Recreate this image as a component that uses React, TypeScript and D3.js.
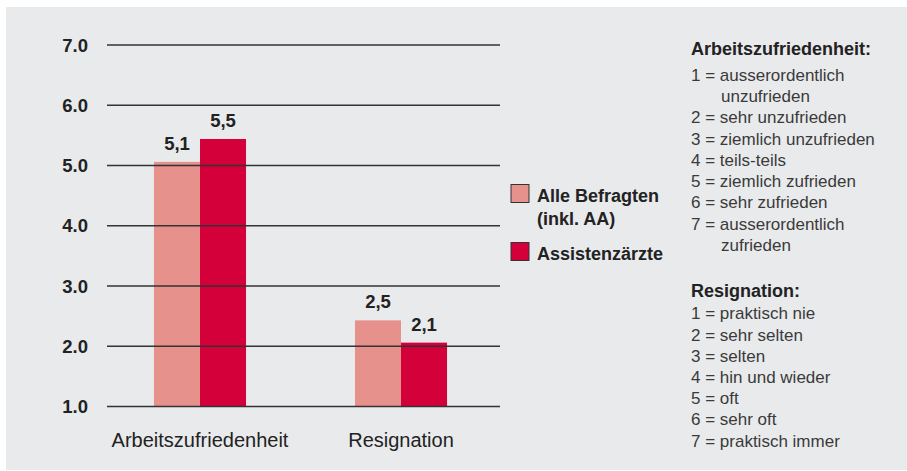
import React from "react";
import * as d3 from "d3";

const categories = ["Arbeitszufriedenheit", "Resignation"];
const seriesNames = ["Alle Befragten (inkl. AA)", "Assistenzärzte"];
const allValues = [5.06, 2.43];
const assistValues = [5.44, 2.06];
const allLabels = ["5,1", "2,5"];
const assistLabels = ["5,5", "2,1"];
const yTicks = [1, 2, 3, 4, 5, 6, 7];
const legendLines = [["Alle Befragten", "(inkl. AA)"], ["Assistenzärzte"]];
const arbeitTitle = "Arbeitszufriedenheit:";
const arbeitItems = [
  ["1 = ausserordentlich", "unzufrieden"],
  ["2 = sehr unzufrieden"],
  ["3 = ziemlich unzufrieden"],
  ["4 = teils-teils"],
  ["5 = ziemlich zufrieden"],
  ["6 = sehr zufrieden"],
  ["7 = ausserordentlich", "zufrieden"],
];
const resTitle = "Resignation:";
const resItems = [
  "1 = praktisch nie",
  "2 = sehr selten",
  "3 = selten",
  "4 = hin und wieder",
  "5 = oft",
  "6 = sehr oft",
  "7 = praktisch immer",
];

const COLORS = ["#e6918c", "#d4003a"];
const FONT = "'Liberation Sans', Arial, Helvetica, sans-serif";
const DARK = "#222";

export default function App() {
  const W = 907, H = 471;
  const y = d3.scaleLinear().domain([1, 7]).range([406.5, 45]);
  const x0 = d3.scaleBand<string>().domain(categories).range([99.5, 501.5]).paddingInner(0.542).paddingOuter(0.271);
  const x1 = d3.scaleBand<number>().domain([0, 1]).range([0, x0.bandwidth()]);
  const seriesVals = [allValues, assistValues];
  const seriesLabels = [allLabels, assistLabels];

  const arbLines: { text: string; indent: boolean }[] = [];
  arbeitItems.forEach((it) => it.forEach((t, i) => arbLines.push({ text: t, indent: i > 0 })));

  return (
    <svg width={W} height={H} style={{ position: "absolute", left: 0, top: 0 }} fontFamily={FONT}>
      <rect x={6} y={7} width={W - 6} height={H - 8} fill="#e9eaec" />
      {seriesVals.map((vals, s) =>
        categories.map((c, i) => (
          <g key={`b${s}-${i}`}>
            <rect
              x={(x0(c) as number) + (x1(s) as number)}
              y={y(vals[i])}
              width={x1.bandwidth()}
              height={y(1) - y(vals[i])}
              fill={COLORS[s]}
            />
            <text
              x={(x0(c) as number) + (x1(s) as number) + x1.bandwidth() / 2}
              y={y(vals[i]) - 12}
              textAnchor="middle"
              fontSize={18.5}
              fontWeight="bold"
              fill={DARK}
            >
              {seriesLabels[s][i]}
            </text>
          </g>
        ))
      )}
      {yTicks.map((t) => (
        <g key={t}>
          <line x1={107} x2={500} y1={y(t)} y2={y(t)} stroke="#333" strokeWidth={1.3} />
          <text x={88} y={y(t) + 6.5} textAnchor="end" fontSize={18.5} fontWeight="bold" fill={DARK}>
            {d3.format(".1f")(t)}
          </text>
        </g>
      ))}
      {categories.map((c) => (
        <text key={c} x={(x0(c) as number) + x0.bandwidth() / 2} y={447} textAnchor="middle" fontSize={20} fill={DARK}>
          {c}
        </text>
      ))}
      {seriesNames.map((n, s) => {
        const top = s === 0 ? 184.5 : 242.5;
        return (
          <g key={n}>
            <rect x={511} y={top} width={18} height={18} fill={COLORS[s]} stroke="#333" strokeWidth={1} />
            {legendLines[s].map((l, k) => (
              <text key={k} x={537} y={top + 17 + k * 23.5} fontSize={18} fontWeight="bold" fill={DARK}>
                {l}
              </text>
            ))}
          </g>
        );
      })}
      <text x={691} y={55} fontSize={18} fontWeight="bold" fill={DARK}>{arbeitTitle}</text>
      {arbLines.map((l, i) => (
        <text key={i} x={l.indent ? 721 : 691} y={80.7 + i * 21.28} fontSize={17} fill="#3a3a3a">
          {l.text}
        </text>
      ))}
      <text x={691} y={297.3} fontSize={18} fontWeight="bold" fill={DARK}>{resTitle}</text>
      {resItems.map((t, i) => (
        <text key={i} x={691} y={319.3 + i * 21.23} fontSize={17} fill="#3a3a3a">
          {t}
        </text>
      ))}
    </svg>
  );
}
